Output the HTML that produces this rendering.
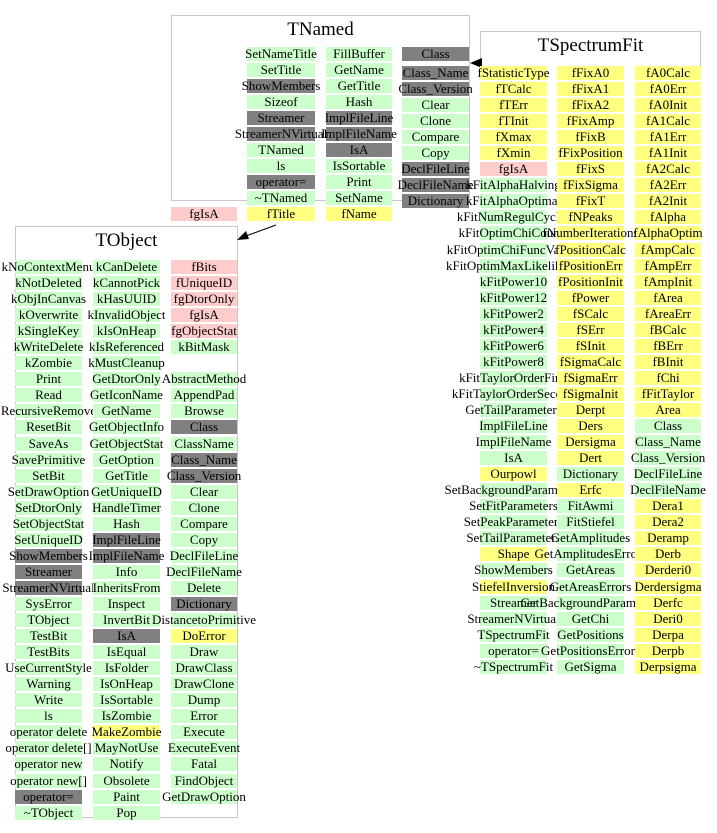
<!DOCTYPE html>
<html><head><meta charset="utf-8"><style>
body{margin:0;width:717px;height:833px;background:#fff;position:relative;overflow:hidden;font-family:"Liberation Serif",serif;}
.box{position:absolute;border:1px solid #c8c8c8;box-sizing:border-box;background:#fff;}
.t{position:absolute;font-size:19px;text-align:center;}
.col{position:absolute;}
.col div{height:14px;margin-bottom:2.05px;font-size:13px;line-height:14px;display:flex;justify-content:center;white-space:nowrap;background:#ccffcc;}
.col div.d{background:#808080}
.col div.y{background:#ffff80}
.col div.p{background:#ffcccc}
.col div.e{background:transparent}
</style></head><body>
<div class="box" style="left:171px;top:15px;width:299px;height:186px"></div>
<div class="t" style="left:171px;top:19px;width:299px">TNamed</div>
<div class="box" style="left:480px;top:31px;width:221px;height:36px;border-bottom:none"></div>
<div class="t" style="left:480px;top:35px;width:221px">TSpectrumFit</div>
<div class="box" style="left:15px;top:226px;width:223px;height:592px"></div>
<div class="t" style="left:15px;top:230px;width:223px">TObject</div>

<svg style="position:absolute;left:0;top:0" width="717" height="833">
<line x1="482" y1="63" x2="478" y2="63" stroke="#000"/>
<polygon points="470,63 482,58 482,68" fill="#000"/>
<line x1="276" y1="225" x2="246" y2="236" stroke="#000"/>
<polygon points="237,240 246,231 249,239" fill="#000"/>
</svg>

<div class="col" style="left:247px;top:47px;width:68px">
<div>SetNameTitle</div><div>SetTitle</div><div class="d">ShowMembers</div><div>Sizeof</div><div class="d">Streamer</div><div class="d">StreamerNVirtual</div><div>TNamed</div><div>ls</div><div class="d">operator=</div><div>~TNamed</div><div class="y">fTitle</div>
</div>
<div class="col" style="left:326px;top:47px;width:66px">
<div>FillBuffer</div><div>GetName</div><div>GetTitle</div><div>Hash</div><div class="d">ImplFileLine</div><div class="d">ImplFileName</div><div class="d">IsA</div><div>IsSortable</div><div>Print</div><div>SetName</div><div class="y">fName</div>
</div>
<div class="col" style="left:402px;top:47px;width:67px"><div class="d">Class</div></div>
<div class="col" style="left:402px;top:66px;width:67px">
<div class="d">Class_Name</div><div class="d">Class_Version</div><div>Clear</div><div>Clone</div><div>Compare</div><div>Copy</div><div class="d">DeclFileLine</div><div class="d">DeclFileName</div><div class="d">Dictionary</div>
</div>
<div class="col" style="left:171px;top:207px;width:66px"><div class="p">fgIsA</div></div>

<div class="col" style="left:480px;top:66px;width:67px">
<div class="y">fStatisticType</div><div class="y">fTCalc</div><div class="y">fTErr</div><div class="y">fTInit</div><div class="y">fXmax</div><div class="y">fXmin</div><div class="p">fgIsA</div><div>kFitAlphaHalving</div><div>kFitAlphaOptimal</div><div>kFitNumRegulCycles</div><div>kFitOptimChiCounts</div><div>kFitOptimChiFuncValues</div><div>kFitOptimMaxLikelihood</div><div>kFitPower10</div><div>kFitPower12</div><div>kFitPower2</div><div>kFitPower4</div><div>kFitPower6</div><div>kFitPower8</div><div>kFitTaylorOrderFirst</div><div>kFitTaylorOrderSecond</div><div>GetTailParameters</div><div>ImplFileLine</div><div>ImplFileName</div><div>IsA</div><div class="y">Ourpowl</div><div>SetBackgroundParameters</div><div>SetFitParameters</div><div>SetPeakParameters</div><div>SetTailParameters</div><div class="y">Shape</div><div>ShowMembers</div><div class="y">StiefelInversion</div><div>Streamer</div><div>StreamerNVirtual</div><div>TSpectrumFit</div><div>operator=</div><div>~TSpectrumFit</div>
</div>
<div class="col" style="left:557px;top:66px;width:67px">
<div class="y">fFixA0</div><div class="y">fFixA1</div><div class="y">fFixA2</div><div class="y">fFixAmp</div><div class="y">fFixB</div><div class="y">fFixPosition</div><div class="y">fFixS</div><div class="y">fFixSigma</div><div class="y">fFixT</div><div class="y">fNPeaks</div><div class="y">fNumberIterations</div><div class="y">fPositionCalc</div><div class="y">fPositionErr</div><div class="y">fPositionInit</div><div class="y">fPower</div><div class="y">fSCalc</div><div class="y">fSErr</div><div class="y">fSInit</div><div class="y">fSigmaCalc</div><div class="y">fSigmaErr</div><div class="y">fSigmaInit</div><div class="y">Derpt</div><div class="y">Ders</div><div class="y">Dersigma</div><div class="y">Dert</div><div>Dictionary</div><div class="y">Erfc</div><div>FitAwmi</div><div>FitStiefel</div><div>GetAmplitudes</div><div>GetAmplitudesErrors</div><div>GetAreas</div><div>GetAreasErrors</div><div>GetBackgroundParameters</div><div>GetChi</div><div>GetPositions</div><div>GetPositionsErrors</div><div>GetSigma</div>
</div>
<div class="col" style="left:635px;top:66px;width:66px">
<div class="y">fA0Calc</div><div class="y">fA0Err</div><div class="y">fA0Init</div><div class="y">fA1Calc</div><div class="y">fA1Err</div><div class="y">fA1Init</div><div class="y">fA2Calc</div><div class="y">fA2Err</div><div class="y">fA2Init</div><div class="y">fAlpha</div><div class="y">fAlphaOptim</div><div class="y">fAmpCalc</div><div class="y">fAmpErr</div><div class="y">fAmpInit</div><div class="y">fArea</div><div class="y">fAreaErr</div><div class="y">fBCalc</div><div class="y">fBErr</div><div class="y">fBInit</div><div class="y">fChi</div><div class="y">fFitTaylor</div><div class="y">Area</div><div>Class</div><div>Class_Name</div><div>Class_Version</div><div>DeclFileLine</div><div>DeclFileName</div><div class="y">Dera1</div><div class="y">Dera2</div><div class="y">Deramp</div><div class="y">Derb</div><div class="y">Derderi0</div><div class="y">Derdersigma</div><div class="y">Derfc</div><div class="y">Deri0</div><div class="y">Derpa</div><div class="y">Derpb</div><div class="y">Derpsigma</div>
</div>

<div class="col" style="left:15px;top:260px;width:67px">
<div>kNoContextMenu</div><div>kNotDeleted</div><div>kObjInCanvas</div><div>kOverwrite</div><div>kSingleKey</div><div>kWriteDelete</div><div>kZombie</div><div>Print</div><div>Read</div><div>RecursiveRemove</div><div>ResetBit</div><div>SaveAs</div><div>SavePrimitive</div><div>SetBit</div><div>SetDrawOption</div><div>SetDtorOnly</div><div>SetObjectStat</div><div>SetUniqueID</div><div class="d">ShowMembers</div><div class="d">Streamer</div><div class="d">StreamerNVirtual</div><div>SysError</div><div>TObject</div><div>TestBit</div><div>TestBits</div><div>UseCurrentStyle</div><div>Warning</div><div>Write</div><div>ls</div><div>operator delete</div><div>operator delete[]</div><div>operator new</div><div>operator new[]</div><div class="d">operator=</div><div>~TObject</div>
</div>
<div class="col" style="left:93px;top:260px;width:67px">
<div>kCanDelete</div><div>kCannotPick</div><div>kHasUUID</div><div>kInvalidObject</div><div>kIsOnHeap</div><div>kIsReferenced</div><div>kMustCleanup</div><div>GetDtorOnly</div><div>GetIconName</div><div>GetName</div><div>GetObjectInfo</div><div>GetObjectStat</div><div>GetOption</div><div>GetTitle</div><div>GetUniqueID</div><div>HandleTimer</div><div>Hash</div><div class="d">ImplFileLine</div><div class="d">ImplFileName</div><div>Info</div><div>InheritsFrom</div><div>Inspect</div><div>InvertBit</div><div class="d">IsA</div><div>IsEqual</div><div>IsFolder</div><div>IsOnHeap</div><div>IsSortable</div><div>IsZombie</div><div class="y">MakeZombie</div><div>MayNotUse</div><div>Notify</div><div>Obsolete</div><div>Paint</div><div>Pop</div>
</div>
<div class="col" style="left:171px;top:260px;width:66px">
<div class="p">fBits</div><div class="p">fUniqueID</div><div class="p">fgDtorOnly</div><div class="p">fgIsA</div><div class="p">fgObjectStat</div><div>kBitMask</div><div class="e"></div><div>AbstractMethod</div><div>AppendPad</div><div>Browse</div><div class="d">Class</div><div>ClassName</div><div class="d">Class_Name</div><div class="d">Class_Version</div><div>Clear</div><div>Clone</div><div>Compare</div><div>Copy</div><div>DeclFileLine</div><div>DeclFileName</div><div>Delete</div><div class="d">Dictionary</div><div>DistancetoPrimitive</div><div class="y">DoError</div><div>Draw</div><div>DrawClass</div><div>DrawClone</div><div>Dump</div><div>Error</div><div>Execute</div><div>ExecuteEvent</div><div>Fatal</div><div>FindObject</div><div>GetDrawOption</div>
</div>
</body></html>
